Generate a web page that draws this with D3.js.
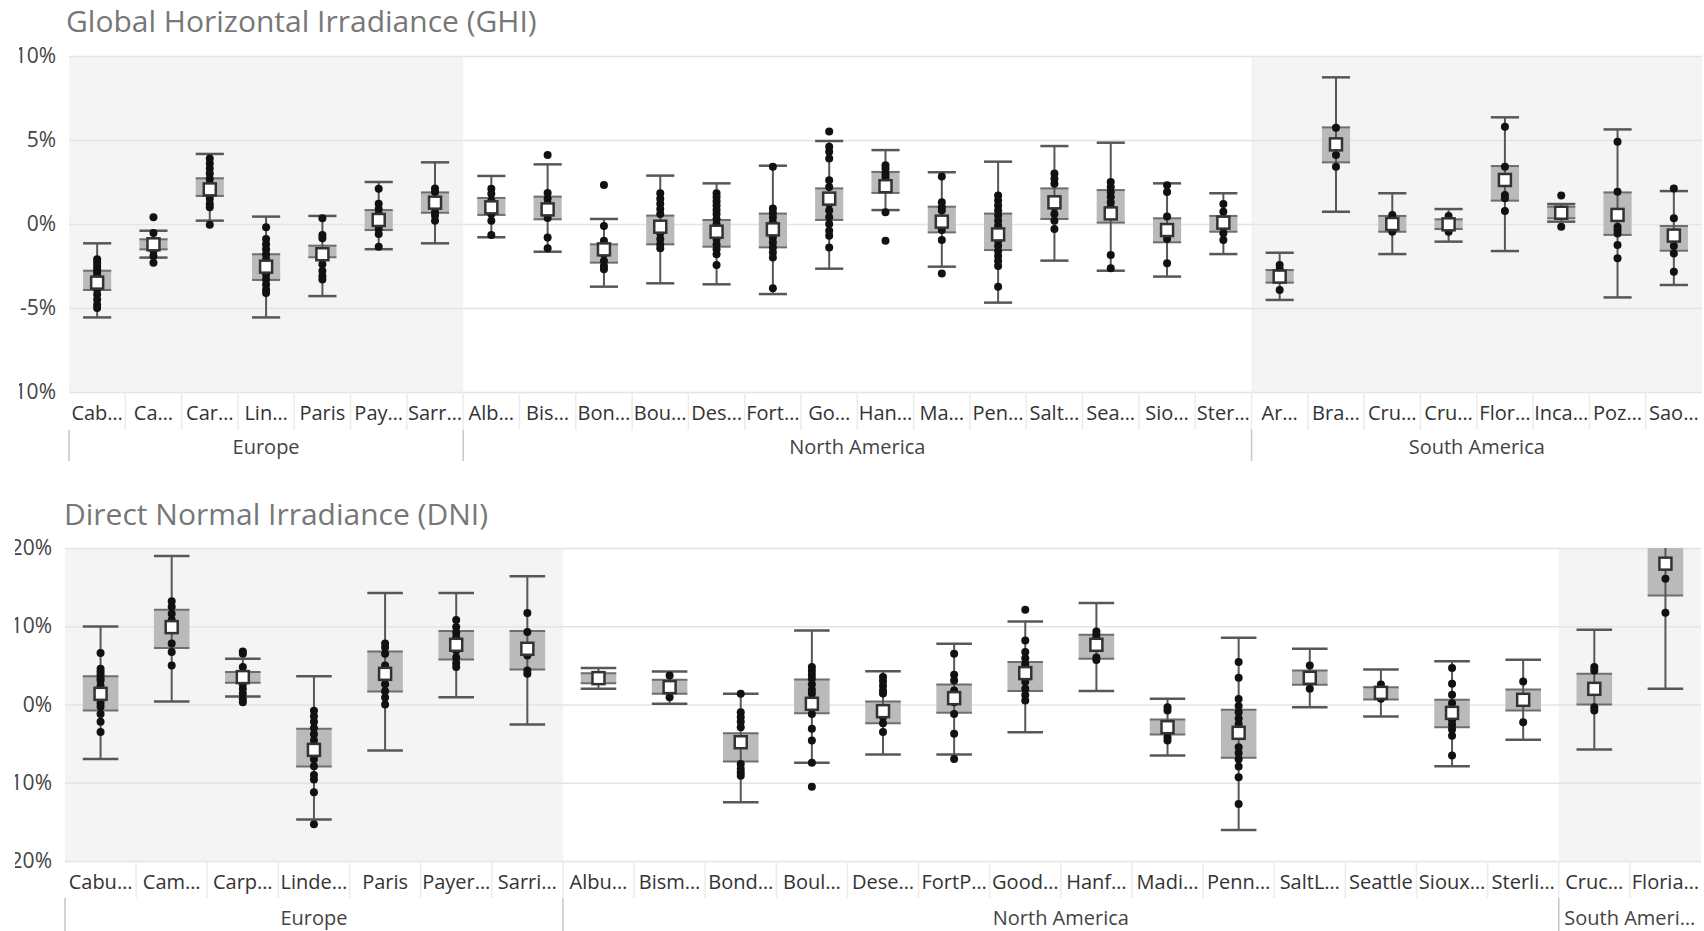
<!DOCTYPE html>
<html>
<head>
<meta charset="utf-8">
<script src="https://cdn.jsdelivr.net/npm/d3@7"></script>
<style>
  body { margin: 0; background: #fff; }
  svg { display: block; font-family: 'Segoe UI', 'Open Sans', sans-serif; }
</style>
</head>
<body>
<svg id="chart" width="1704" height="931"></svg>
<script>
// ---- GHI data (deviation in %) ----
const ghiSites = ["Cab…", "Ca…", "Car…", "Lin…", "Paris", "Pay…", "Sarr…",
  "Alb…", "Bis…", "Bon…", "Bou…", "Des…", "Fort…", "Go…", "Han…", "Ma…", "Pen…", "Salt…", "Sea…", "Sio…", "Ster…",
  "Ar…", "Bra…", "Cru…", "Cru…", "Flor…", "Inca…", "Poz…", "Sao…"];
const ghiRegions = ["Europe", "Europe", "Europe", "Europe", "Europe", "Europe", "Europe",
  "North America", "North America", "North America", "North America", "North America", "North America", "North America",
  "North America", "North America", "North America", "North America", "North America", "North America", "North America",
  "South America", "South America", "South America", "South America", "South America", "South America", "South America", "South America"];
const ghiLow  = [-5.56, -2.0, 0.2, -5.56, -4.29, -1.5, -1.15, -0.79, -1.65, -3.73, -3.53, -3.59, -4.17, -2.66, 0.83, -2.54, -4.68, -2.18, -2.78, -3.13, -1.79, -4.52, 0.73, -1.79, -1.05, -1.61, 0.14, -4.37, -3.63];
const ghiQ1   = [-3.93, -1.51, 1.67, -3.33, -1.98, -0.36, 0.67, 0.54, 0.28, -2.3, -1.21, -1.35, -1.39, 0.24, 1.85, -0.5, -1.55, 0.3, 0.08, -1.09, -0.46, -3.49, 3.67, -0.46, -0.3, 1.39, 0.34, -0.65, -1.59];
const ghiMean = [-3.49, -1.21, 2.06, -2.54, -1.8, 0.24, 1.27, 0.99, 0.87, -1.51, -0.16, -0.46, -0.32, 1.51, 2.25, 0.14, -0.62, 1.29, 0.63, -0.36, 0.08, -3.13, 4.74, 0.0, -0.02, 2.62, 0.67, 0.54, -0.69];
const ghiQ3   = [-2.78, -0.91, 2.72, -1.8, -1.29, 0.83, 1.88, 1.55, 1.63, -1.21, 0.5, 0.24, 0.62, 2.12, 3.1, 1.03, 0.62, 2.12, 2.02, 0.34, 0.48, -2.74, 5.75, 0.48, 0.28, 3.45, 1.03, 1.88, -0.12];
const ghiHigh = [-1.15, -0.4, 4.17, 0.44, 0.48, 2.5, 3.67, 2.86, 3.55, 0.3, 2.88, 2.42, 3.47, 4.94, 4.4, 3.08, 3.71, 4.64, 4.84, 2.42, 1.83, -1.71, 8.73, 1.83, 0.89, 6.35, 1.19, 5.63, 1.96];
const ghiPoints = [
  [-2.1, -2.3, -2.5, -2.7, -2.9, -3.1, -3.3, -3.5, -3.7, -3.9, -4.2, -4.5, -4.8, -5.0],
  [0.4, -0.54, -1.0, -1.3, -1.6, -1.9, -2.3],
  [3.9, 3.6, 3.3, 3.0, 2.7, 2.4, 2.1, 1.8, 1.5, 1.2, 1.0, -0.05],
  [-0.2, -0.9, -1.2, -1.5, -1.8, -2.1, -2.4, -2.7, -3.0, -3.3, -3.6, -3.9, -4.1],
  [0.34, -0.65, -0.85, -2.0, -2.4, -2.8, -3.1, -3.3],
  [2.1, 1.2, 0.9, 0.6, 0.3, 0.0, -0.3, -0.6, -1.35],
  [2.12, 1.9, 1.4, 1.1, 0.7, 0.5, 0.2],
  [2.1, 1.8, 1.4, 1.0, 0.6, 0.2, -0.65],
  [4.1, 1.85, 1.5, 1.2, 0.9, 0.35, -0.8, -1.45],
  [2.32, -0.12, -1.0, -1.4, -1.8, -2.2, -2.5, -2.7],
  [1.83, 1.5, 1.2, 0.9, 0.6, -0.55, -0.9, -1.2, -1.45],
  [1.83, 1.6, 1.35, 1.1, 0.85, 0.6, 0.3, 0.0, -0.3, -0.6, -0.9, -1.2, -1.5, -1.8, -2.44],
  [3.41, 0.93, 0.65, 0.4, 0.1, -0.2, -0.5, -0.8, -1.1, -1.4, -1.7, -2.0, -3.83],
  [5.5, 4.6, 4.3, 3.9, 2.6, 2.2, 1.6, 1.2, 0.8, 0.4, 0.0, -0.4, -0.7, -1.4],
  [3.5, 3.3, 3.0, 2.8, 0.7, -1.0],
  [2.82, 1.3, 1.0, 0.8, -0.36, -0.95, -2.94],
  [1.7, 1.4, 1.1, 0.8, 0.5, 0.2, -0.1, -0.35, -0.7, -1.0, -1.3, -1.6, -1.9, -2.2, -2.5, -3.73],
  [3.0, 2.7, 2.4, 1.4, 1.0, 0.6, 0.2, -0.3],
  [2.5, 2.2, 1.9, 1.6, 1.3, 1.0, 0.5, -1.85, -2.64],
  [2.3, 1.9, 0.44, -0.6, -0.9, -2.34],
  [1.19, 0.73, 0.2, -0.2, -0.55, -0.95],
  [-2.44, -2.7, -3.93],
  [5.73, 4.1, 3.41],
  [0.54, 0.35, -0.46],
  [0.48, 0.25, -0.46],
  [5.79, 3.41, 1.73, 1.53, 0.77],
  [1.69, -0.16],
  [4.9, 1.92, -0.16, -0.36, -0.56, -1.25, -2.04],
  [2.12, 0.34, -1.31, -1.75, -2.84]
];
const ghiTicks = [10, 5, 0, -5, -10];

// ---- DNI data (deviation in %) ----
const dniSites = ["Cabu…", "Cam…", "Carp…", "Linde…", "Paris", "Payer…", "Sarri…",
  "Albu…", "Bism…", "Bond…", "Boul…", "Dese…", "FortP…", "Good…", "Hanf…", "Madi…", "Penn…", "SaltL…", "Seattle", "Sioux…", "Sterli…",
  "Cruc…", "Floria…"];
const dniRegions = ["Europe", "Europe", "Europe", "Europe", "Europe", "Europe", "Europe",
  "North America", "North America", "North America", "North America", "North America", "North America", "North America",
  "North America", "North America", "North America", "North America", "North America", "North America", "North America",
  "South America", "South America"];
const dniLow  = [-6.95, 0.38, 1.02, -14.7, -5.88, 0.94, -2.56, 2.0, 0.09, -12.5, -7.46, -6.4, -6.4, -3.54, 1.71, -6.52, -16.03, -0.34, -1.54, -7.89, -4.52, -5.76, 2.0];
const dniQ1   = [-0.77, 7.21, 2.77, -7.93, 1.66, 5.76, 4.48, 2.73, 1.36, -7.3, -1.11, -2.39, -1.07, 1.71, 5.84, -3.84, -6.82, 2.52, 0.64, -2.9, -0.77, 0.0, 13.94];
const dniMean = [1.36, 9.89, 3.5, -5.8, 3.92, 7.63, 7.12, 3.37, 2.22, -4.82, 0.09, -0.85, 0.81, 4.01, 7.63, -2.9, -3.62, 3.41, 1.49, -1.07, 0.6, 2.0, 18.0];
const dniQ3   = [3.62, 12.11, 4.14, -3.11, 6.78, 9.38, 9.38, 4.0, 3.16, -3.67, 3.2, 0.38, 2.56, 5.42, 8.91, -1.92, -0.68, 4.35, 2.22, 0.6, 1.92, 3.92, 22.0];
const dniHigh = [9.98, 18.98, 5.84, 3.62, 14.24, 14.24, 16.38, 4.65, 4.22, 1.36, 9.47, 4.26, 7.76, 10.62, 12.96, 0.72, 8.53, 7.12, 4.48, 5.54, 5.71, 9.55, 24.0];
const dniPoints = [
  [6.57, 4.56, 4.2, 3.8, 3.4, 3.07, 2.4, 1.5, 0.8, 0.2, -0.3, -1.2, -2.2, -3.5],
  [13.2, 12.5, 11.6, 10.8, 7.8, 6.7, 5.0],
  [6.78, 6.5, 4.78, 2.6, 2.0, 1.4, 0.7, 0.3],
  [-0.8, -1.5, -2.2, -3.0, -3.8, -4.6, -5.4, -6.2, -7.0, -7.9, -9.0, -9.6, -11.2, -15.3],
  [7.8, 7.3, 6.5, 5.0, 3.5, 2.6, 1.7, 0.9, 0.0],
  [10.8, 9.9, 9.2, 8.6, 6.9, 6.0, 5.3, 4.8],
  [11.68, 9.25, 6.27, 4.35, 3.92],
  [],
  [3.7, 0.94],
  [1.36, -1.0, -1.6, -2.2, -2.9, -7.6, -8.2, -8.7, -9.1],
  [4.8, 4.3, 3.8, 3.3, 2.6, 1.9, 1.4, 0.7, -0.4, -1.2, -3.1, -4.6, -7.46, -10.5],
  [3.5, 3.0, 2.4, 1.8, 1.4, -1.6, -2.4, -3.5],
  [6.48, 3.8, 3.07, 1.8, 0.3, -1.2, -3.75, -6.95],
  [12.1, 8.19, 6.7, 5.9, 5.2, 4.8, 2.9, 2.0, 1.2, 0.5],
  [9.34, 8.9, 8.5, 6.0, 5.7],
  [-0.34, -0.77, -4.18, -4.6],
  [5.42, 3.41, 0.7, -0.2, -1.0, -1.8, -2.5, -5.46, -6.2, -7.0, -7.93, -9.3, -12.7],
  [4.99, 2.0],
  [2.56, 0.72],
  [4.65, 2.64, 1.24, 0.17, -2.0, -2.6, -3.2, -4.0, -6.52],
  [2.94, -2.26],
  [4.78, 4.35, -0.34, -0.77],
  [16.08, 11.73]
];
const dniTicks = [20, 10, 0, -10, -20];
const dniRegionLabels = {"South America": "South Ameri…"};

const shadedRegions = ["Europe", "South America"];

const svg = d3.select('#chart');

function drawPanel(o) {
  const g = svg.append('g').attr('class', 'panel');
  const n = o.sites.length;

  const x = d3.scaleBand().domain(d3.range(n)).range([o.left, o.right]);
  const y = d3.scaleLinear().domain(d3.extent(o.ticks)).range([o.bottom, o.top]);

  // consecutive runs of the same region
  const runs = [];
  o.regions.forEach((r, i) => {
    if (!runs.length || runs[runs.length - 1].name !== r) runs.push({ name: r, start: i, end: i });
    else runs[runs.length - 1].end = i;
  });
  const runX0 = d => x(d.start);
  const runX1 = d => x(d.end) + x.step();

  g.append('text')
    .attr('x', o.titleX)
    .attr('y', o.titleY)
    .attr('font-size', 30)
    .attr('fill', '#777')
    .text(o.title);

  g.selectAll('rect.shade')
    .data(runs.filter(d => shadedRegions.includes(d.name)))
    .enter()
    .append('rect')
    .attr('class', 'shade')
    .attr('x', runX0)
    .attr('y', o.top)
    .attr('width', d => runX1(d) - runX0(d))
    .attr('height', o.bottom - o.top)
    .attr('fill', '#f4f4f4');

  // gridlines
  g.append('g')
    .attr('transform', `translate(${o.left},0)`)
    .call(d3.axisLeft(y).tickValues(o.ticks).tickSize(-(o.right - o.left)).tickFormat(''))
    .call(a => a.select('.domain').remove())
    .call(a => a.selectAll('line').attr('stroke', '#e4e4e4').attr('stroke-width', 1.5));

  // y labels, clipped on the left like the original
  const clipId = 'yclip' + o.key;
  const clipX = o.left - 50;
  svg.append('clipPath').attr('id', clipId)
    .append('rect').attr('x', clipX).attr('y', 0).attr('width', o.left - clipX).attr('height', 931);
  g.append('g')
    .attr('clip-path', `url(#${clipId})`)
    .append('g')
    .attr('transform', `translate(${o.left},0)`)
    .call(d3.axisLeft(y).tickValues(o.ticks).tickSize(0).tickPadding(13).tickFormat(d => d + '%'))
    .call(a => a.select('.domain').remove())
    .call(a => a.selectAll('text')
      .attr('font-size', 21)
      .attr('fill', '#444')
      .attr('font-family', "'Segoe UI', 'Open Sans', sans-serif"));

  // category labels
  g.append('g')
    .attr('transform', `translate(0,${o.bottom})`)
    .call(d3.axisBottom(x).tickSize(0).tickPadding(14).tickFormat(i => o.sites[i]))
    .call(a => a.select('.domain').remove())
    .call(a => a.selectAll('text')
      .attr('font-size', 20)
      .attr('fill', '#333')
      .attr('font-family', "'Segoe UI', 'Open Sans', sans-serif"));

  // separators under the axis
  g.selectAll('line.catsep')
    .data(d3.range(1, n))
    .enter()
    .append('line')
    .attr('class', 'catsep')
    .attr('x1', i => x(i)).attr('x2', i => x(i))
    .attr('y1', o.bottom).attr('y2', o.sepY)
    .attr('stroke', '#ececec')
    .attr('stroke-width', 1.5);

  g.selectAll('line.grpsep')
    .data(runs)
    .enter()
    .append('line')
    .attr('class', 'grpsep')
    .attr('x1', runX0).attr('x2', runX0)
    .attr('y1', o.sepY).attr('y2', o.groupBottom)
    .attr('stroke', '#c6c6c6')
    .attr('stroke-width', 1.5);

  g.selectAll('text.grp')
    .data(runs)
    .enter()
    .append('text')
    .attr('class', 'grp')
    .attr('x', d => (runX0(d) + runX1(d)) / 2)
    .attr('y', o.groupY)
    .attr('text-anchor', 'middle')
    .attr('font-size', 20)
    .attr('fill', '#444')
    .text(d => (o.regionLabels && o.regionLabels[d.name]) || d.name);

  // box plots
  const plotClip = 'plot' + o.key;
  svg.append('clipPath').attr('id', plotClip)
    .append('rect').attr('x', o.left).attr('y', o.top).attr('width', o.right - o.left).attr('height', o.bottom - o.top);

  const bw = x.bandwidth() * 0.5;
  const boxes = g.append('g')
    .attr('clip-path', `url(#${plotClip})`)
    .selectAll('g.box')
    .data(d3.range(n))
    .enter()
    .append('g')
    .attr('class', 'box')
    .attr('transform', i => `translate(${x(i) + x.bandwidth() / 2},0)`);

  boxes.append('rect')
    .attr('x', -bw / 2)
    .attr('y', i => y(o.q3[i]))
    .attr('width', bw)
    .attr('height', i => y(o.q1[i]) - y(o.q3[i]))
    .attr('fill', '#bababa');

  boxes.each(function(i) {
    const b = d3.select(this);
    [o.q1[i], o.q3[i]].forEach(v => {
      b.append('line')
        .attr('x1', -bw / 2).attr('x2', bw / 2)
        .attr('y1', y(v)).attr('y2', y(v))
        .attr('stroke', '#6e6e6e').attr('stroke-width', 2);
    });
    b.append('line')
      .attr('x1', 0).attr('x2', 0)
      .attr('y1', y(o.high[i])).attr('y2', y(o.low[i]))
      .attr('stroke', '#575757').attr('stroke-width', 2);
    [o.low[i], o.high[i]].forEach(v => {
      b.append('line')
        .attr('x1', -bw / 2).attr('x2', bw / 2)
        .attr('y1', y(v)).attr('y2', y(v))
        .attr('stroke', '#575757').attr('stroke-width', 2.5);
    });
    b.selectAll('circle')
      .data(o.points[i])
      .enter()
      .append('circle')
      .attr('cx', 0)
      .attr('cy', d => y(d))
      .attr('r', 4)
      .attr('fill', '#111');
    b.append('rect')
      .attr('x', -6).attr('y', y(o.mean[i]) - 6)
      .attr('width', 12).attr('height', 12)
      .attr('fill', '#fff')
      .attr('stroke', '#333')
      .attr('stroke-width', 2.5);
  });
}

drawPanel({
  key: 'ghi', title: 'Global Horizontal Irradiance (GHI)', titleX: 66, titleY: 32,
  left: 69, right: 1702, top: 56, bottom: 392, sepY: 430, groupBottom: 461, groupY: 454,
  sites: ghiSites, regions: ghiRegions, ticks: ghiTicks,
  low: ghiLow, q1: ghiQ1, mean: ghiMean, q3: ghiQ3, high: ghiHigh, points: ghiPoints
});

drawPanel({
  key: 'dni', title: 'Direct Normal Irradiance (DNI)', titleX: 64, titleY: 525,
  left: 65, right: 1701, top: 548, bottom: 861, sepY: 898, groupBottom: 931, groupY: 925,
  sites: dniSites, regions: dniRegions, ticks: dniTicks, regionLabels: dniRegionLabels,
  low: dniLow, q1: dniQ1, mean: dniMean, q3: dniQ3, high: dniHigh, points: dniPoints
});
</script>
</body>
</html>
